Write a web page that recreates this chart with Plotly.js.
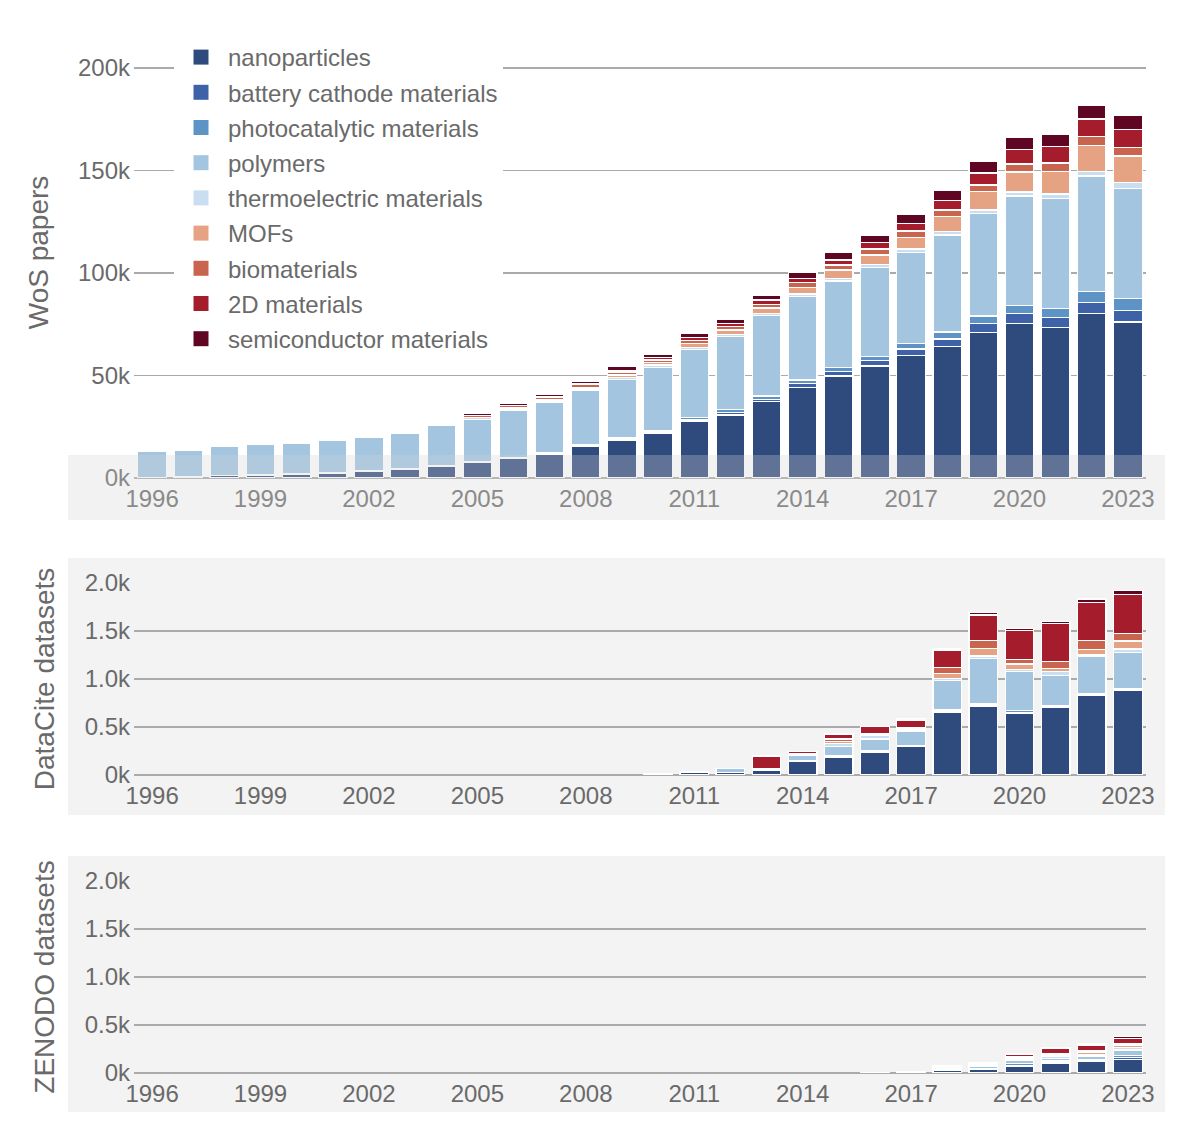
<!DOCTYPE html>
<html>
<head>
<meta charset="utf-8">
<script src="https://cdn.plot.ly/plotly-3.0.1.min.js"></script>
<style>
  html, body { margin: 0; padding: 0; background: #ffffff; }
  #chart { width: 1200px; height: 1133px; }
</style>
</head>
<body>
<div id="chart"></div>
<script>
// ---------- data ----------
const years = [1996,1997,1998,1999,2000,2001,2002,2003,2004,2005,2006,2007,2008,2009,
               2010,2011,2012,2013,2014,2015,2016,2017,2018,2019,2020,2021,2022,2023];

const seriesNames = ["nanoparticles","battery cathode materials","photocatalytic materials",
  "polymers","thermoelectric materials","MOFs","biomaterials","2D materials","semiconductor materials"];

const seriesColors = ["#2f4a7d","#3d62a8","#5e93c5","#a3c5e0","#c9def0","#e5a383","#c9654f","#a51d2d","#5e0622"];

// Web of Science papers per year
const wosNanoparticles = [300,500,1100,1500,1800,2300,3100,4200,5500,7500,9400,11700,15300,18400,
  21800,27500,30700,37200,44100,49800,54600,59700,64200,71100,75400,73500,80300,76100];
const wosBattery = [50,50,100,100,100,150,200,200,250,300,350,400,500,600,
  700,800,1200,1200,2100,2200,2600,3200,3600,4200,4800,4700,5400,5500];
const wosPhotocatalytic = [50,50,100,100,100,150,200,250,300,350,400,500,600,700,
  800,1100,1400,1600,1600,1800,2000,2600,3400,3700,3900,4600,5200,5900];
const wosPolymers = [12800,13100,14000,14700,14900,15600,16500,17200,19500,20500,23000,24100,26200,28400,
  30700,33400,35600,39200,40700,42300,43400,44600,47300,50100,53500,53500,56400,53800];
const wosThermoelectric = [400,400,450,450,500,450,500,550,600,700,750,800,850,1000,
  1100,900,1000,900,1300,1300,1500,1600,1700,1600,1900,2200,2100,2800];
const wosMOFs = [50,50,50,50,50,50,100,100,150,300,400,600,800,1100,
  1100,2000,2300,2800,3100,4100,4700,5700,7400,9000,9800,10900,12700,13000];
const wosBiomaterials = [400,400,500,450,500,500,500,600,650,800,900,1100,1200,1500,
  1400,1300,1600,1800,2500,2400,2900,3100,3100,3200,3900,4300,4400,4200];
const wos2D = [50,50,50,50,50,50,50,50,50,100,150,300,350,900,
  1100,1400,1700,2100,2000,2400,3100,3700,4700,5900,7100,7900,8600,8800];
const wosSemiconductor = [200,200,350,300,400,350,450,600,650,900,1000,1300,1400,1700,
  1800,2200,2100,2300,2900,3600,3700,4400,4900,5500,5700,6200,6900,6700];

// DataCite datasets per year
const dcNanoparticles = [0,0,0,0,0,0,0,0,0,0,0,0,0,0, 15,30,24,52,146,188,240,295,653,719,643,702,827,879];
const dcBattery       = [0,0,0,0,0,0,0,0,0,0,0,0,0,0, 0,0,0,0,2,3,4,5,8,8,10,8,8,8];
const dcPhotocatalytic= [0,0,0,0,0,0,0,0,0,0,0,0,0,0, 0,0,0,3,5,8,10,10,16,13,17,12,16,16];
const dcPolymers      = [0,0,0,0,0,0,0,0,0,0,0,0,0,0, 3,5,46,5,48,96,121,148,306,476,407,313,382,372];
const dcThermoelectric= [0,0,0,0,0,0,0,0,0,0,0,0,0,0, 0,0,0,3,8,35,35,21,24,24,24,42,17,38];
const dcMOFs          = [0,0,0,0,0,0,0,0,0,0,0,0,0,0, 0,0,0,3,8,17,17,9,52,80,56,34,60,83];
const dcBiomaterials  = [0,0,0,0,0,0,0,0,0,0,0,0,0,0, 0,0,0,5,6,28,6,6,63,80,48,70,90,80];
const dc2D            = [0,0,0,0,0,0,0,0,0,0,0,0,0,0, 0,0,0,126,20,52,70,79,174,267,299,399,396,407];
const dcSemiconductor = [0,0,0,0,0,0,0,0,0,0,0,0,0,0, 0,0,0,0,3,3,3,10,17,28,24,21,38,38];

// ZENODO datasets per year
const zenNanoparticles = [0,0,0,0,0,0,0,0,0,0,0,0,0,0, 0,0,0,0,0,0,3,5,24,38,73,101,118,142];
const zenBattery       = [0,0,0,0,0,0,0,0,0,0,0,0,0,0, 0,0,0,0,0,0,0,1,3,2,8,8,7,21];
const zenPhotocatalytic= [0,0,0,0,0,0,0,0,0,0,0,0,0,0, 0,0,0,0,0,0,0,2,5,2,20,16,10,17];
const zenPolymers      = [0,0,0,0,0,0,0,0,0,0,0,0,0,0, 0,0,0,0,0,0,3,6,13,31,27,28,42,60];
const zenThermoelectric= [0,0,0,0,0,0,0,0,0,0,0,0,0,0, 0,0,0,0,0,0,1,2,10,10,14,24,14,24];
const zenMOFs          = [0,0,0,0,0,0,0,0,0,0,0,0,0,0, 0,0,0,0,0,0,0,1,6,7,11,11,24,21];
const zenBiomaterials  = [0,0,0,0,0,0,0,0,0,0,0,0,0,0, 0,0,0,0,0,0,0,0,4,4,14,17,14,17];
const zen2D            = [0,0,0,0,0,0,0,0,0,0,0,0,0,0, 0,0,0,0,0,0,0,0,6,7,27,52,59,59];
const zenSemiconductor = [0,0,0,0,0,0,0,0,0,0,0,0,0,0, 0,0,0,0,0,0,0,0,2,7,7,7,14,17];

// tick labels
const xTickVals = [1996,1999,2002,2005,2008,2011,2014,2017,2020,2023];
const xTickText = ["1996","1999","2002","2005","2008","2011","2014","2017","2020","2023"];
const wosTickVals = [0,50000,100000,150000,200000];
const wosTickText = ["0k","50k","100k","150k","200k"];
const dsTickVals = [0,500,1000,1500,2000];
const dsTickText = ["0k","0.5k","1.0k","1.5k","2.0k"];

const panelTitles = ["WoS papers","DataCite datasets","ZENODO datasets"];

// ---------- traces ----------
const wosSeries = [wosNanoparticles,wosBattery,wosPhotocatalytic,wosPolymers,wosThermoelectric,wosMOFs,wosBiomaterials,wos2D,wosSemiconductor];
const dcSeries  = [dcNanoparticles,dcBattery,dcPhotocatalytic,dcPolymers,dcThermoelectric,dcMOFs,dcBiomaterials,dc2D,dcSemiconductor];
const zenSeries = [zenNanoparticles,zenBattery,zenPhotocatalytic,zenPolymers,zenThermoelectric,zenMOFs,zenBiomaterials,zen2D,zenSemiconductor];

const traces = [];

// legend entries (square swatches), no data drawn
seriesNames.forEach(function(name, i){
  traces.push({
    type: "scatter", mode: "markers",
    x: [null], y: [null],
    name: name,
    legendgroup: "g" + i,
    xaxis: "x", yaxis: "y",
    showlegend: true,
    marker: { symbol: "square", size: 15, color: seriesColors[i], line: { width: 0 } },
    hoverinfo: "skip"
  });
});

const panels = [[wosSeries,"x","y"],[dcSeries,"x2","y2"],[zenSeries,"x3","y3"]];
panels.forEach(function(p){
  p[0].forEach(function(vals, i){
    traces.push({
      type: "bar",
      x: years,
      // empty years are left out so no outline is drawn at zero
      y: vals.map(v => (v === 0 ? null : v)),
      name: seriesNames[i],
      legendgroup: "g" + i,
      xaxis: p[1],
      yaxis: p[2],
      showlegend: false,
      marker: { color: seriesColors[i], line: { color: "#ffffff", width: 1.3 } },
      hoverinfo: "skip"
    });
  });
});

// ---------- layout ----------
const W = 1200, H = 1133;
const fx = px => px / W;
const fy = px => 1 - px / H;

const textColor = "#6a6a6a";
const gridColor = "#aaaaaa";
const baseFont = "Liberation Sans, Arial, Helvetica, sans-serif";

function xAxis(anchor){
  return {
    anchor: anchor,
    domain: [fx(134), fx(1146)],
    range: [1995.5, 2023.5],
    tickmode: "array",
    tickvals: xTickVals,
    ticktext: xTickText,
    showgrid: false,
    zeroline: false,
    showline: false,
    ticks: "",
    ticklabelstandoff: 4,
    tickfont: { size: 24, color: textColor, family: baseFont },
    fixedrange: true
  };
}
function yAxis(anchor, domain, range, tv, tt, title){
  return {
    anchor: anchor,
    domain: domain,
    range: range,
    tickmode: "array",
    tickvals: tv,
    ticktext: tt,
    showgrid: true,
    gridcolor: gridColor,
    gridwidth: 1.3,
    zeroline: true,
    zerolinecolor: gridColor,
    zerolinewidth: 1.3,
    showline: false,
    ticks: "",
    ticklabelstandoff: 3,
    automargin: true,
    tickfont: { size: 24, color: textColor, family: baseFont },
    title: { text: title, standoff: 21, font: { size: 28, color: textColor, family: baseFont } },
    fixedrange: true
  };
}

const layout = {
  width: W,
  height: H,
  margin: { l: 0, r: 0, t: 0, b: 0, pad: 0, autoexpand: false },
  paper_bgcolor: "#ffffff",
  plot_bgcolor: "rgba(0,0,0,0)",
  barmode: "stack",
  bargap: 0.21,
  font: { family: baseFont, color: textColor, size: 24 },
  showlegend: true,
  legend: {
    x: fx(174), xanchor: "left",
    y: fy(35), yanchor: "top",
    bgcolor: "#ffffff",
    borderwidth: 0,
    traceorder: "grouped",
    tracegroupgap: 1,
    itemwidth: 44,
    font: { size: 24, color: textColor, family: baseFont }
  },
  xaxis: xAxis("y"),
  xaxis2: xAxis("y2"),
  xaxis3: xAxis("y3"),
  yaxis: yAxis("x", [fy(478), fy(27)], [0, 220000], wosTickVals, wosTickText, panelTitles[0]),
  yaxis2: yAxis("x2", [fy(775), fy(583)], [0, 2000], dsTickVals, dsTickText, panelTitles[1]),
  yaxis3: yAxis("x3", [fy(1073), fy(881)], [0, 2000], dsTickVals, dsTickText, panelTitles[2]),
  shapes: [
    { type: "rect", xref: "paper", yref: "paper", layer: "below",
      x0: fx(68), x1: fx(1165), y0: fy(815), y1: fy(558),
      fillcolor: "#f3f3f3", line: { width: 0 } },
    { type: "rect", xref: "paper", yref: "paper", layer: "below",
      x0: fx(68), x1: fx(1165), y0: fy(1112), y1: fy(856),
      fillcolor: "#f3f3f3", line: { width: 0 } },
    { type: "rect", xref: "paper", yref: "paper", layer: "above",
      x0: fx(68), x1: fx(1165), y0: fy(520), y1: fy(455),
      fillcolor: "rgba(212,212,212,0.3)", line: { width: 0 } }
  ]
};

Plotly.newPlot("chart", traces, layout, { displayModeBar: false, staticPlot: true });
</script>
</body>
</html>
